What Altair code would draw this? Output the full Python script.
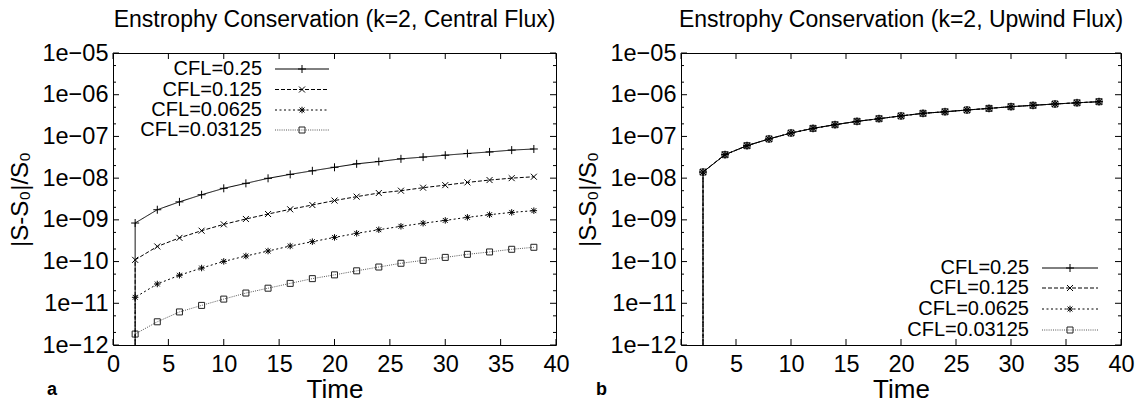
import altair as alt
import pandas as pd

FONT = "Liberation Sans"

# ---------------- data ----------------
time = [2, 4, 6, 8, 10, 12, 14, 16, 18, 20, 22, 24, 26, 28, 30, 32, 34, 36, 38]

# first sample (t=2) falls far below the axis -> vertical drop line
drop_time = 2
drop_value = 1e-16

central_cfl_025 = [8.4e-10, 1.75e-9, 2.7e-9, 4.0e-9, 5.7e-9, 7.5e-9, 9.9e-9, 1.23e-8, 1.5e-8, 1.82e-8,
                   2.2e-8, 2.5e-8, 2.9e-8, 3.2e-8, 3.55e-8, 3.9e-8, 4.25e-8, 4.7e-8, 5.0e-8]
central_cfl_0125 = [1.1e-10, 2.3e-10, 3.7e-10, 5.5e-10, 7.8e-10, 1.05e-9, 1.38e-9, 1.79e-9, 2.27e-9, 2.9e-9,
                    3.6e-9, 4.4e-9, 5.0e-9, 5.9e-9, 6.8e-9, 7.9e-9, 9.0e-9, 1.0e-8, 1.08e-8]
central_cfl_00625 = [1.39e-11, 2.9e-11, 4.7e-11, 7.0e-11, 1.01e-10, 1.36e-10, 1.79e-10, 2.36e-10, 3.0e-10, 3.8e-10,
                     4.75e-10, 5.8e-10, 7.0e-10, 8.3e-10, 9.7e-10, 1.15e-9, 1.33e-9, 1.51e-9, 1.66e-9]
central_cfl_003125 = [1.83e-12, 3.6e-12, 6.2e-12, 8.9e-12, 1.26e-11, 1.76e-11, 2.3e-11, 3.0e-11, 3.9e-11, 4.8e-11,
                      6.0e-11, 7.4e-11, 9.1e-11, 1.07e-10, 1.26e-10, 1.49e-10, 1.7e-10, 1.97e-10, 2.2e-10]

upwind_cfl_025 = [1.4e-8, 3.65e-8, 6.0e-8, 8.7e-8, 1.21e-7, 1.56e-7, 1.91e-7, 2.3e-7, 2.66e-7, 3.1e-7,
                  3.58e-7, 3.9e-7, 4.3e-7, 4.7e-7, 5.16e-7, 5.57e-7, 5.99e-7, 6.4e-7, 6.8e-7]
upwind_cfl_0125 = [1.4e-8, 3.65e-8, 6.0e-8, 8.7e-8, 1.21e-7, 1.56e-7, 1.91e-7, 2.3e-7, 2.66e-7, 3.1e-7,
                   3.58e-7, 3.9e-7, 4.3e-7, 4.7e-7, 5.16e-7, 5.57e-7, 5.99e-7, 6.4e-7, 6.8e-7]
upwind_cfl_00625 = [1.4e-8, 3.65e-8, 6.0e-8, 8.7e-8, 1.21e-7, 1.56e-7, 1.91e-7, 2.3e-7, 2.66e-7, 3.1e-7,
                    3.58e-7, 3.9e-7, 4.3e-7, 4.7e-7, 5.16e-7, 5.57e-7, 5.99e-7, 6.4e-7, 6.8e-7]
upwind_cfl_003125 = [1.4e-8, 3.65e-8, 6.0e-8, 8.7e-8, 1.21e-7, 1.56e-7, 1.91e-7, 2.3e-7, 2.66e-7, 3.1e-7,
                     3.58e-7, 3.9e-7, 4.3e-7, 4.7e-7, 5.16e-7, 5.57e-7, 5.99e-7, 6.4e-7, 6.8e-7]

series_labels = ["CFL=0.25", "CFL=0.125", "CFL=0.0625", "CFL=0.03125"]

y_major_ticks = [1e-12, 1e-11, 1e-10, 1e-9, 1e-8, 1e-7, 1e-6, 1e-5]
y_minor_ticks = [2e-12, 5e-12, 2e-11, 5e-11, 2e-10, 5e-10, 2e-9, 5e-9,
                 2e-8, 5e-8, 2e-7, 5e-7, 2e-6, 5e-6]
x_ticks = [0, 5, 10, 15, 20, 25, 30, 35, 40]

titles = ["Enstrophy Conservation (k=2, Central Flux)", "Enstrophy Conservation (k=2, Upwind Flux)"]
panel_letters = ["a", "b"]

# ---------------- styles ----------------
H = 292
PLUS = "M-1,0L1,0M0,-1L0,1"
XMARK = "M-1,-1L1,1M-1,1L1,-1"
STAR = "M-1,0L1,0M0,-1L0,1M-0.75,-0.75L0.75,0.75M-0.75,0.75L0.75,-0.75"
styles = {
    "CFL=0.25": dict(dash=[1, 0], shape=PLUS, size=64, color="#000000", pcolor="#000000"),
    "CFL=0.125": dict(dash=[4, 2], shape=XMARK, size=36, color="#000000", pcolor="#000000"),
    "CFL=0.0625": dict(dash=[2, 2.5], shape=STAR, size=42, color="#000000", pcolor="#000000"),
    "CFL=0.03125": dict(dash=[1, 1.2], shape="square", size=36, color="#555555", pcolor="#222222"),
}

xs = alt.Scale(domain=[0, 40], nice=False, zero=False)
ys = alt.Scale(type="log", domain=[1e-12, 1e-5], nice=False)

xaxis = alt.Axis(title="Time", values=x_ticks, ticks=False, domain=False, grid=False,
                 labelFontSize=23.5, labelPadding=7, titleFontSize=26, titlePadding=1,
                 labelFont=FONT, titleFont=FONT, labelColor="black", titleColor="black",
                 titleFontWeight="normal", labelFlush=False)
yaxis = alt.Axis(title="|S-S₀|/S₀", values=y_major_ticks, ticks=False, domain=False, grid=False,
                 labelExpr="'1e' + format(round(log(datum.value)/LN10), '03d')",
                 labelFontSize=23.5, labelPadding=5, titleFontSize=24, titlePadding=9,
                 labelFont=FONT, titleFont=FONT, labelColor="black", titleColor="black",
                 titleFontWeight="normal", labelFlush=False, labelOverlap=False)


def panel(series_values, title, letter, width, legend_pos):
    layers = []
    # ticks (inward, on all four sides)
    for vals, ln in [(y_major_ticks, 6), (y_minor_ticks, 3)]:
        df = pd.DataFrame({"v": vals})
        layers.append(alt.Chart(df).mark_rule(color="black", strokeWidth=1).encode(
            y=alt.Y("v:Q", scale=ys, axis=yaxis), x=alt.value(0), x2=alt.value(ln)))
        layers.append(alt.Chart(df).mark_rule(color="black", strokeWidth=1).encode(
            y=alt.Y("v:Q", scale=ys, axis=yaxis), x=alt.value(width - ln), x2=alt.value(width)))
    dft = pd.DataFrame({"t": x_ticks})
    layers.append(alt.Chart(dft).mark_rule(color="black", strokeWidth=1).encode(
        x=alt.X("t:Q", scale=xs, axis=xaxis), y=alt.value(H - 6), y2=alt.value(H)))
    layers.append(alt.Chart(dft).mark_rule(color="black", strokeWidth=1).encode(
        x=alt.X("t:Q", scale=xs, axis=xaxis), y=alt.value(0), y2=alt.value(6)))

    # data series (drawn smallest CFL first so the solid CFL=0.25 line is on top)
    for name, vals in reversed(list(zip(series_labels, series_values))):
        st = styles[name]
        line_df = pd.DataFrame({"Time": [drop_time] + time, "err": [drop_value] + vals,
                                "idx": list(range(len(time) + 1))})
        pts_df = pd.DataFrame({"Time": time, "err": vals})
        layers.append(alt.Chart(line_df).mark_line(clip=True, color=st["color"], strokeWidth=1,
                                                   strokeDash=st["dash"]).encode(
            x=alt.X("Time:Q", scale=xs, axis=xaxis),
            y=alt.Y("err:Q", scale=ys, axis=yaxis),
            order="idx:Q"))
        layers.append(alt.Chart(pts_df).mark_point(clip=True, shape=st["shape"], size=st["size"],
                                                   filled=False, color=st["pcolor"], strokeWidth=1,
                                                   opacity=1).encode(
            x=alt.X("Time:Q", scale=xs, axis=xaxis),
            y=alt.Y("err:Q", scale=ys, axis=yaxis)))

    # key
    lx, l1, l2, rows = legend_pos
    for name, ry in zip(series_labels, rows):
        st = styles[name]
        kdf = pd.DataFrame({"label": [name]})
        layers.append(alt.Chart(kdf).mark_text(align="right", baseline="middle", fontSize=20,
                                               font=FONT, color="black").encode(
            x=alt.value(lx), y=alt.value(ry), text="label:N"))
        layers.append(alt.Chart(kdf).mark_rule(color=st["color"], strokeWidth=1,
                                               strokeDash=st["dash"]).encode(
            x=alt.value(l1), x2=alt.value(l2), y=alt.value(ry)))
        layers.append(alt.Chart(kdf).mark_point(shape=st["shape"], size=st["size"], filled=False,
                                                color=st["pcolor"], strokeWidth=1, opacity=1).encode(
            x=alt.value((l1 + l2) / 2), y=alt.value(ry)))

    # panel letter
    ldf = pd.DataFrame({"letter": [letter]})
    layers.append(alt.Chart(ldf).mark_text(align="left", baseline="bottom", fontSize=18,
                                           fontWeight="bold", font=FONT, color="black").encode(
        x=alt.value(-66 if letter == "a" else -85), y=alt.value(346), text="letter:N"))

    return alt.layer(*layers).properties(
        width=width, height=H,
        title=alt.TitleParams(title, fontSize=23, font=FONT, fontWeight="normal", color="black",
                              anchor="middle", offset=9))


left = panel([central_cfl_025, central_cfl_0125, central_cfl_00625, central_cfl_003125],
             titles[0], panel_letters[0], 443, (149, 162, 216, [16, 36.5, 57, 77]))
right = panel([upwind_cfl_025, upwind_cfl_0125, upwind_cfl_00625, upwind_cfl_003125],
              titles[1], panel_letters[1], 440, (348, 361, 417, [215, 235, 256, 277]))

chart = alt.hconcat(left, right, spacing=6).configure(padding=0).configure_view(
    stroke="black", strokeWidth=1)

chart.save("out.html", embed_options={"renderer": "svg", "actions": False})
